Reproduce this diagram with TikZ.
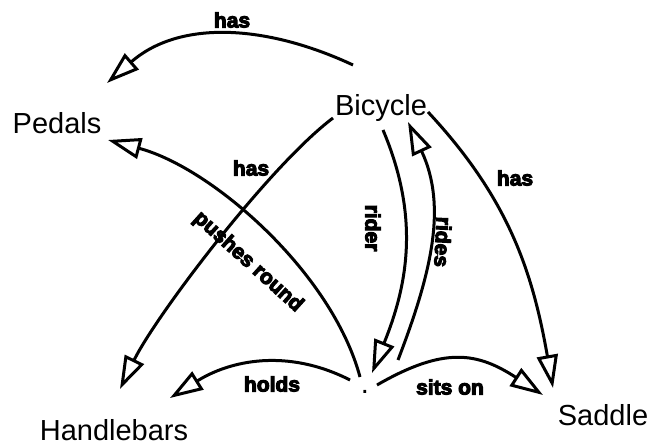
\documentclass[tikz,border=0pt]{standalone}
\usepackage{fontspec}
\setmainfont{Liberation Sans}
\newfontfamily\linkfont{Liberation Sans Bold}[FakeBold=5]
\usetikzlibrary{arrows.meta}

\tikzset{
  concept/.style={inner sep=0pt, font=\fontsize{29}{30}\selectfont, text height=21pt, text depth=6pt},
  link/.style={line width=3pt, -{Triangle[open, length=33pt, width=21pt]}},
  linklabel/.style={inner sep=0pt, font=\linkfont\fontsize{21}{21}\selectfont}
}

\begin{document}
\begin{tikzpicture}[x=1pt,y=1pt]
\useasboundingbox (0,0) rectangle (652,446);
%% concepts
\node[concept] (bicycle) at (381,338) {Bicycle};
\node[concept] (pedals) at (57,320) {Pedals};
\node[concept] (handlebars) at (114,13) {Handlebars};
\node[concept] (saddle) at (603,28) {Saddle};
\node[concept] (someone) at (365,60) {.};
%% links from the bicycle
\draw[link] ([shift={(-28,43)}]bicycle.center) to[out=155,in=41] ([shift={(50,43)}]pedals.center)
  node[linklabel] at (232,426) {has};
\draw[link] ([shift={(-48,-10)}]bicycle.center) to[out=217,in=64,looseness=0.6] ([shift={(6,44)}]handlebars.center)
  node[linklabel] at (251,278) {has};
\draw[link] ([shift={(47,-4)}]bicycle.center) to[out=-47,in=100] ([shift={(-50,30)}]saddle.center)
  node[linklabel] at (515,268) {has};
\draw[link] ([shift={(2,-22)}]bicycle.center) to[out=-67,in=68] ([shift={(7,13)}]someone.center)
  node[linklabel, rotate=-90] at (373,218) {rider};
%% links from the rider
\draw[link] ([shift={(33,26)}]someone.center) to[out=69,in=-65] ([shift={(27,-14)}]bicycle.center)
  node[linklabel, rotate=-93] at (443,204) {rides};
\draw[link] ([shift={(-5,9)}]someone.center) to[out=105,in=-15,looseness=0.8] ([shift={(51,-14)}]pedals.center)
  node[linklabel, rotate=-42] at (248,184) {pushes round};
\draw[link] ([shift={(-15,6)}]someone.center) to[out=153,in=32] ([shift={(56,35)}]handlebars.center)
  node[linklabel] at (272,62) {holds};
\draw[link] ([shift={(12,1)}]someone.center) to[out=30,in=147,looseness=1.2] ([shift={(-60,23)}]saddle.center)
  node[linklabel] at (450,59) {sits on};
\end{tikzpicture}
\end{document}
